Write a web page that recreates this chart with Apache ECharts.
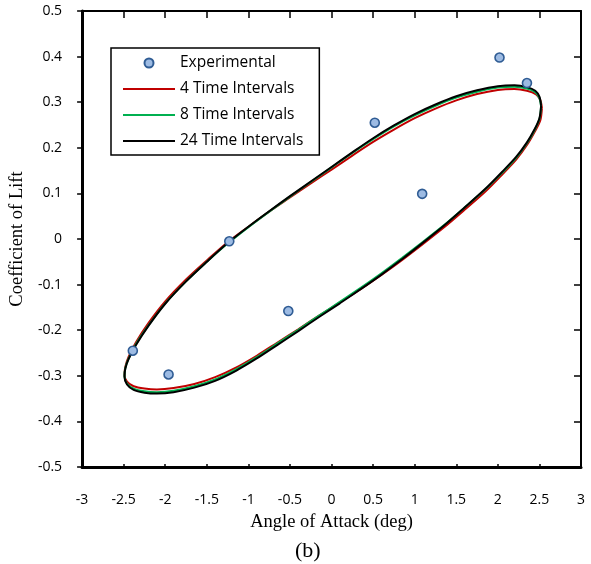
<!DOCTYPE html>
<html>
<head>
<meta charset="utf-8">
<script src="https://cdn.jsdelivr.net/npm/echarts@6/dist/echarts.min.js"></script>
<style>
html,body{margin:0;padding:0;background:#fff;}
#chart{width:591px;height:564px;}
</style>
</head>
<body>
<div id="chart"></div>
<script>
// Experimental points
var expAngle = [-2.39, -1.96, -1.23, -0.52, 0.52, 1.09, 2.02, 2.35];
var expCl    = [-0.245, -0.297, -0.005, -0.158, 0.255, 0.099, 0.398, 0.342];

// 24 Time Intervals (black) - loop: upper branch right->left, then lower branch left->right
var t24Angle = [2.52, 2.50, 2.45, 2.35, 2.20, 2.00, 1.75, 1.50, 1.25, 1.00, 0.75, 0.50, 0.25, 0.00, -0.25, -0.50, -0.75, -1.00, -1.25, -1.50, -1.75, -2.00, -2.20, -2.35, -2.44, -2.48, -2.49,
                -2.46, -2.38, -2.25, -2.10, -1.90, -1.65, -1.40, -1.15, -0.90, -0.65, -0.40, -0.15, 0.10, 0.35, 0.60, 0.85, 1.10, 1.35, 1.60, 1.85, 2.05, 2.22, 2.35, 2.44, 2.50, 2.52];
var t24Cl    = [0.292, 0.312, 0.325, 0.333, 0.337, 0.335, 0.326, 0.313, 0.295, 0.274, 0.249, 0.221, 0.190, 0.158, 0.126, 0.094, 0.061, 0.027, -0.009, -0.050, -0.093, -0.142, -0.190, -0.232, -0.263, -0.284, -0.302,
                -0.319, -0.331, -0.337, -0.339, -0.336, -0.326, -0.311, -0.289, -0.262, -0.232, -0.202, -0.171, -0.141, -0.110, -0.078, -0.044, -0.008, 0.029, 0.069, 0.110, 0.147, 0.180, 0.212, 0.240, 0.265, 0.292];

// 8 Time Intervals (green)
var t8Angle = [2.52, 2.50, 2.45, 2.35, 2.20, 2.00, 1.75, 1.50, 1.25, 1.00, 0.75, 0.50, 0.25, 0.00, -0.25, -0.50, -0.75, -1.00, -1.25, -1.50, -1.75, -2.00, -2.20, -2.35, -2.44, -2.48, -2.49,
               -2.46, -2.38, -2.25, -2.10, -1.90, -1.65, -1.40, -1.15, -0.90, -0.65, -0.40, -0.15, 0.10, 0.35, 0.60, 0.85, 1.10, 1.35, 1.60, 1.85, 2.05, 2.22, 2.35, 2.44, 2.50, 2.52];
var t8Cl    = [0.290, 0.309, 0.322, 0.330, 0.334, 0.332, 0.323, 0.310, 0.292, 0.271, 0.247, 0.219, 0.189, 0.157, 0.125, 0.093, 0.060, 0.026, -0.010, -0.050, -0.093, -0.141, -0.189, -0.230, -0.262, -0.283, -0.301,
               -0.317, -0.328, -0.334, -0.336, -0.333, -0.323, -0.308, -0.286, -0.259, -0.229, -0.199, -0.168, -0.138, -0.107, -0.075, -0.041, -0.006, 0.030, 0.069, 0.109, 0.145, 0.178, 0.210, 0.238, 0.263, 0.290];

// 4 Time Intervals (red)
var t4Angle = [2.53, 2.51, 2.46, 2.35, 2.20, 2.00, 1.75, 1.50, 1.25, 1.00, 0.75, 0.50, 0.25, 0.00, -0.25, -0.50, -0.75, -1.00, -1.25, -1.50, -1.75, -2.00, -2.20, -2.35, -2.44, -2.48, -2.49,
               -2.46, -2.38, -2.25, -2.10, -1.90, -1.65, -1.40, -1.15, -0.90, -0.65, -0.40, -0.15, 0.10, 0.35, 0.60, 0.85, 1.10, 1.35, 1.60, 1.85, 2.05, 2.22, 2.35, 2.44, 2.51, 2.53];
var t4Cl    = [0.287, 0.305, 0.317, 0.325, 0.329, 0.327, 0.318, 0.304, 0.286, 0.265, 0.240, 0.213, 0.183, 0.152, 0.122, 0.091, 0.060, 0.027, -0.007, -0.047, -0.089, -0.137, -0.184, -0.226, -0.258, -0.280, -0.298,
               -0.313, -0.323, -0.328, -0.330, -0.327, -0.318, -0.303, -0.282, -0.256, -0.227, -0.198, -0.168, -0.139, -0.110, -0.079, -0.046, -0.011, 0.025, 0.064, 0.104, 0.141, 0.174, 0.206, 0.234, 0.260, 0.287];

var xTicks = {min: -3, max: 3, step: 0.5};
var yTicks = {min: -0.5, max: 0.5, step: 0.1};

function zip(a, b) { return a.map(function (v, i) { return [v, b[i]]; }); }

var chart = echarts.init(document.getElementById('chart'), null, {renderer: 'canvas'});
var tickFont = {fontFamily: 'Open Sans', fontSize: 14, color: '#000'};
var titleFont = {fontFamily: 'Liberation Serif', fontSize: 18.5, color: '#000'};
var lineIcon = 'path://M0 0H52V2H0Z';

chart.setOption({
  animation: false,
  backgroundColor: '#fff',
  title: {
    text: '(b)', left: 290, top: 535,
    textStyle: {fontFamily: 'Liberation Serif', fontSize: 22, fontWeight: 'normal', color: '#000'}
  },
  grid: {left: 81, right: 10, top: 11, bottom: 97},
  legend: {
    orient: 'vertical', left: 111, top: 48,
    padding: [7, 16, 6, 12],
    borderColor: '#000', borderWidth: 1.5, backgroundColor: '#fff',
    itemWidth: 52, itemHeight: 9, itemGap: 10,
    textStyle: {fontFamily: 'Open Sans', fontSize: 15.5, color: '#000', lineHeight: 16},
    data: [
      {name: 'Experimental'},
      {name: '4 Time Intervals', icon: lineIcon},
      {name: '8 Time Intervals', icon: lineIcon},
      {name: '24 Time Intervals', icon: lineIcon}
    ]
  },
  xAxis: [{
    type: 'value', position: 'bottom', min: xTicks.min, max: xTicks.max, interval: xTicks.step,
    name: 'Angle of Attack (deg)', nameLocation: 'middle', nameGap: 46, nameTextStyle: titleFont,
    axisLine: {onZero: false, lineStyle: {color: '#000', width: 3}},
    axisTick: {inside: true, length: 3, lineStyle: {color: '#000', width: 1.5}},
    axisLabel: Object.assign({margin: 26}, tickFont),
    splitLine: {show: false}
  }, {
    type: 'value', position: 'top', min: xTicks.min, max: xTicks.max, interval: xTicks.step,
    axisLine: {onZero: false, lineStyle: {color: '#000', width: 2}},
    axisTick: {inside: true, length: 7, lineStyle: {color: '#000', width: 1.5}},
    axisLabel: {show: false}, splitLine: {show: false}
  }],
  yAxis: [{
    type: 'value', position: 'left', min: yTicks.min, max: yTicks.max, interval: yTicks.step,
    name: 'Coefficient of Lift', nameLocation: 'middle', nameGap: 53, nameTextStyle: titleFont,
    axisLine: {onZero: false, lineStyle: {color: '#000', width: 3}},
    axisTick: {inside: false, length: 5, lineStyle: {color: '#000', width: 1.5}},
    axisLabel: Object.assign({margin: 20}, tickFont),
    splitLine: {show: false}
  }, {
    type: 'value', position: 'right', min: yTicks.min, max: yTicks.max, interval: yTicks.step,
    axisLine: {onZero: false, lineStyle: {color: '#000', width: 2}},
    axisTick: {inside: true, length: 7, lineStyle: {color: '#000', width: 1.5}},
    axisLabel: {show: false}, splitLine: {show: false}
  }],
  series: [{
    name: '4 Time Intervals', type: 'line', symbol: 'none', smooth: 0.3,
    lineStyle: {color: '#c00000', width: 2}, itemStyle: {color: '#c00000'},
    data: zip(t4Angle, t4Cl), z: 2
  }, {
    name: '8 Time Intervals', type: 'line', symbol: 'none', smooth: 0.3,
    lineStyle: {color: '#00b050', width: 2}, itemStyle: {color: '#00b050'},
    data: zip(t8Angle, t8Cl), z: 3
  }, {
    name: '24 Time Intervals', type: 'line', symbol: 'none', smooth: 0.3,
    lineStyle: {color: '#000', width: 2}, itemStyle: {color: '#000'},
    data: zip(t24Angle, t24Cl), z: 4
  }, {
    name: 'Experimental', type: 'scatter', symbol: 'circle', symbolSize: 9,
    itemStyle: {color: '#9dbbe3', borderColor: '#2f5c94', borderWidth: 1.6, opacity: 1},
    data: zip(expAngle, expCl), z: 5
  }]
});
</script>
</body>
</html>
